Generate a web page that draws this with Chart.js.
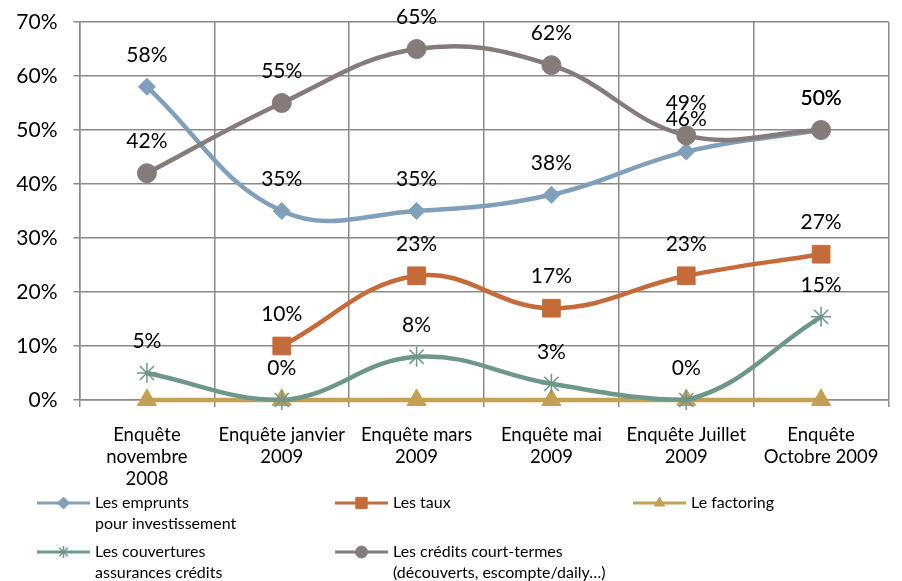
<!DOCTYPE html>
<html>
<head>
<meta charset="utf-8">
<script src="https://cdn.jsdelivr.net/npm/chart.js@4"></script>
<style>
  html, body { margin: 0; padding: 0; background: #fff; }
  #wrap { width: 902px; height: 581px; position: relative; }
</style>
</head>
<body>
<div id="wrap"><canvas id="chart" width="902" height="581"></canvas></div>
<script>
var categories = [
  ['Enquête', 'novembre', '2008'],
  ['Enquête janvier', '2009'],
  ['Enquête mars', '2009'],
  ['Enquête mai', '2009'],
  ['Enquête Juillet', '2009'],
  ['Enquête', 'Octobre 2009']
];
var emprunts = [58, 35, 35, 38, 46, 50];
var taux = [null, 10, 23, 17, 23, 27];
var factoring = [0, 0, 0, 0, 0, 0];
var couvertures = [5, 0, 8, 3, 0, 15.4];
var creditsCT = [42, 55, 65, 62, 49, 50];
var yTicks = [0, 10, 20, 30, 40, 50, 60, 70];

var labelEmprunts = ['Les emprunts', 'pour investissement'];
var labelTaux = ['Les taux'];
var labelFactoring = ['Le factoring'];
var labelCouvertures = ['Les couvertures', 'assurances crédits'];
var labelCredits = ['Les crédits court-termes', '(découverts, escompte/daily…)'];

var FONT = 'Lato, "Open Sans", sans-serif';
var gridColor = '#8a8a8a';

function series(label, data, color, style, radius, order, showLabels) {
  return {
    label: label,
    data: data,
    borderColor: color,
    backgroundColor: color,
    pointBackgroundColor: color,
    pointBorderColor: color,
    borderWidth: 4.5,
    pointStyle: style,
    pointRadius: radius,
    pointHoverRadius: radius,
    pointBorderWidth: style === 'star' ? 1.5 : 1,
    tension: 0.4,
    fill: false,
    clip: false,
    order: order,
    showLabels: showLabels !== false
  };
}

// percent labels above each point
var dataLabels = {
  id: 'dataLabels',
  afterDatasetsDraw: function (chart) {
    var ctx = chart.ctx;
    ctx.save();
    ctx.font = '21px ' + FONT;
    ctx.fillStyle = '#000';
    ctx.textAlign = 'center';
    ctx.textBaseline = 'middle';
    chart.data.datasets.forEach(function (ds, i) {
      if (!ds.showLabels) return;
      var meta = chart.getDatasetMeta(i);
      meta.data.forEach(function (pt, j) {
        var v = ds.data[j];
        if (v === null || v === undefined) return;
        ctx.fillText(Math.round(v) + '%', pt.x, pt.y - 32);
      });
    });
    ctx.restore();
  }
};

// legend in 3 columns with two-line labels
var legendBox = {
  id: 'legendBox',
  afterDraw: function (chart) {
    var ctx = chart.ctx;
    var cols = [37, 335, 633];
    var rows = [503, 552];
    var texts = [labelEmprunts, labelTaux, labelFactoring, labelCouvertures, labelCredits];
    ctx.save();
    chart.data.datasets.forEach(function (ds, i) {
      var x = cols[i % 3], y = rows[Math.floor(i / 3)];
      ctx.strokeStyle = ds.borderColor;
      ctx.fillStyle = ds.borderColor;
      ctx.lineWidth = 3;
      ctx.beginPath();
      ctx.moveTo(x, y);
      ctx.lineTo(x + 53, y);
      ctx.stroke();
      ctx.lineWidth = ds.pointStyle === 'star' ? 1.5 : 1;
      Chart.helpers.drawPoint(ctx, {
        pointStyle: ds.pointStyle,
        radius: ds.pointStyle === 'rect' ? 8 : 6,
        borderWidth: ds.pointStyle === 'star' ? 1.5 : 1,
        rotation: 0
      }, x + 26.5, y);
      ctx.fillStyle = '#000';
      ctx.font = '16px ' + FONT;
      ctx.textAlign = 'left';
      ctx.textBaseline = 'middle';
      texts[i].forEach(function (t, k) {
        ctx.fillText(t, x + 58, y + k * 21);
      });
    });
    ctx.restore();
  }
};

new Chart(document.getElementById('chart'), {
  type: 'line',
  data: {
    labels: categories,
    datasets: [
      series(labelEmprunts.join(' '), emprunts, '#7f9fba', 'rectRot', 8.5, 3),
      series(labelTaux.join(' '), taux, '#c56b3a', 'rect', 12.5, 2),
      series(labelFactoring.join(' '), factoring, '#c4a052', 'triangle', 11, 5, false),
      series(labelCouvertures.join(' '), couvertures, '#6c978a', 'star', 10, 4),
      series(labelCredits.join(' '), creditsCT, '#857b7b', 'circle', 9.5, 1)
    ]
  },
  options: {
    responsive: false,
    animation: false,
    devicePixelRatio: 1,
    layout: { padding: { top: 22, right: 9, left: 0, bottom: 0 } },
    plugins: {
      legend: { display: false },
      tooltip: { enabled: false }
    },
    scales: {
      x: {
        offset: true,
        grid: { color: gridColor, lineWidth: 1.5, offset: true, tickLength: 7, drawTicks: true },
        border: { color: gridColor, width: 1.5 },
        ticks: {
          color: '#000',
          font: { family: FONT, size: 18.5 },
          padding: 17,
          maxRotation: 0,
          autoSkip: false
        },
        afterFit: function (scale) { scale.height = 181; }
      },
      y: {
        min: 0,
        max: 70,
        afterBuildTicks: function (scale) {
          scale.ticks = yTicks.map(function (v) { return { value: v }; });
        },
        grid: { color: gridColor, lineWidth: 1.5, tickLength: 6 },
        border: { color: gridColor, width: 1.5 },
        ticks: {
          color: '#000',
          font: { family: FONT, size: 21 },
          padding: 16,
          callback: function (v) { return v + '%'; }
        },
        afterFit: function (scale) {
          scale.width = 79.5;
          scale.paddingTop = 0;
          scale.paddingBottom = 0;
        }
      }
    }
  },
  plugins: [dataLabels, legendBox]
});
</script>
</body>
</html>
